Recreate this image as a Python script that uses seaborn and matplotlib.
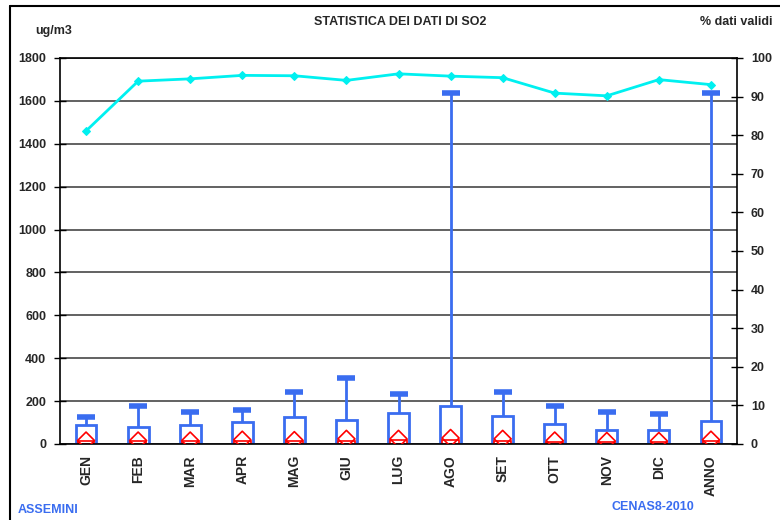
import numpy as np
import pandas as pd
import matplotlib
matplotlib.use("Agg")
import matplotlib.pyplot as plt
import seaborn as sns

# SO2 statistics per month (ug/m3) and % of valid data
mesi = ["GEN", "FEB", "MAR", "APR", "MAG", "GIU", "LUG", "AGO", "SET", "OTT", "NOV", "DIC", "ANNO"]
box_top = [87, 81, 87, 104, 124, 113, 143, 176, 131, 93, 65, 65, 109]
massimo = [124, 176, 151, 159, 243, 309, 235, 1638, 243, 176, 148, 141, 1638]
box_low = [12, 12, 12, 14, 12, 16, 18, 18, 16, 10, 10, 10, 14]
media = [16, 16, 16, 20, 18, 24, 24, 28, 24, 16, 14, 14, 20]
dati_validi = [81.1, 94.0, 94.6, 95.5, 95.4, 94.2, 95.9, 95.3, 94.9, 90.9, 90.2, 94.4, 93.1]

blu = "#3a6df0"
rosso = "#ff0000"
ciano = "#00f0f0"

df = pd.DataFrame({"mese": mesi, "top": box_top, "max": massimo,
                   "low": box_low, "media": media, "pct": dati_validi})
df["pos"] = np.arange(len(df))

sns.set_style("white")
plt.rcParams["font.family"] = ["Liberation Sans", "DejaVu Sans"]
plt.rcParams["font.weight"] = "bold"

fig = plt.figure(figsize=(7.8, 5.2), dpi=100)
ax = fig.add_axes([60 / 780, 1 - 444 / 520, 677 / 780, 386 / 520])

# main boxes
sns.barplot(data=df, x="pos", y="top", ax=ax, fill=False, width=0.4,
            color=blu, linewidth=2, native_scale=True, errorbar=None)
# whiskers from box top to max, with cap only at the top
ax.vlines(df["pos"], df["top"], df["max"], color=blu, linewidth=2, zorder=3)
ax.plot(df["pos"], df["max"], linestyle="none", marker="_", markersize=13,
        markeredgewidth=4, color=blu, zorder=3)
# small red box + mean diamond
sns.barplot(data=df, x="pos", y="low", ax=ax, fill=False, width=0.32,
            color=rosso, linewidth=1.2, native_scale=True, errorbar=None)
sns.scatterplot(data=df, x="pos", y="media", ax=ax, marker="D", s=75,
                facecolor="none", edgecolor=rosso, linewidth=1.2, zorder=4, legend=False)

ax.set_xlim(-0.5, len(df) - 0.5)
ax.set_ylim(0, 1800)
ax.set_yticks(np.arange(0, 1801, 200))
ax.set_yticklabels([str(v) for v in range(0, 1801, 200)], fontsize=9, fontweight="bold")
ax.set_xticks(np.arange(len(df)) + 0.5)
ax.set_xticklabels([])
ax.set_xticks(np.arange(len(df)), minor=True)
ax.set_xticklabels(mesi, minor=True, rotation=90, fontsize=10, fontweight="bold")
ax.tick_params(axis="x", which="major", direction="inout", length=8, width=1, color="black")
ax.tick_params(axis="x", which="minor", length=0, pad=8)
ax.tick_params(axis="y", direction="inout", length=8, width=1, color="black", pad=6, left=True)
ax.grid(axis="y", color="#555555", linewidth=1.3)
ax.set_axisbelow(True)
ax.set_xlabel("")
ax.set_ylabel("")
for s in ax.spines.values():
    s.set_color("black")
    s.set_linewidth(1.2)

# % dati validi on secondary axis
ax2 = ax.twinx()
sns.lineplot(data=df, x="pos", y="pct", ax=ax2, color=ciano, linewidth=2,
             marker="D", markersize=4, markeredgecolor=ciano)
ax2.set_ylim(0, 100)
ax2.set_yticks(np.arange(0, 101, 10))
ax2.set_yticklabels([str(v) for v in range(0, 101, 10)], fontsize=9, fontweight="bold")
ax2.tick_params(axis="y", direction="inout", length=8, width=1, color="black", pad=6, right=True)
ax2.set_ylabel("")
ax2.set_xlabel("")
for s in ax2.spines.values():
    s.set_visible(False)

fig.text(400 / 780, 1 - 22 / 520, "STATISTICA DEI DATI DI SO2", ha="center", va="center",
         fontsize=9, fontweight="bold")
fig.text(35 / 780, 1 - 31 / 520, "ug/m3", ha="left", va="center", fontsize=9, fontweight="bold")
fig.text(772 / 780, 1 - 22 / 520, "% dati validi", ha="right", va="center", fontsize=9, fontweight="bold")
fig.text(18 / 780, 1 - 510 / 520, "ASSEMINI", ha="left", va="center", fontsize=9,
         fontweight="bold", color=blu)
fig.text(612 / 780, 1 - 507 / 520, "CENAS8-2010", ha="left", va="center", fontsize=9,
         fontweight="bold", color=blu)

# outer frame
fig.add_artist(plt.Line2D([10 / 780, 10 / 780], [0, 1 - 6 / 520], color="black", linewidth=1.5,
                          transform=fig.transFigure))
fig.add_artist(plt.Line2D([10 / 780, 1], [1 - 6 / 520, 1 - 6 / 520], color="black", linewidth=1.5,
                          transform=fig.transFigure))

fig.savefig("out.png", dpi=100)
